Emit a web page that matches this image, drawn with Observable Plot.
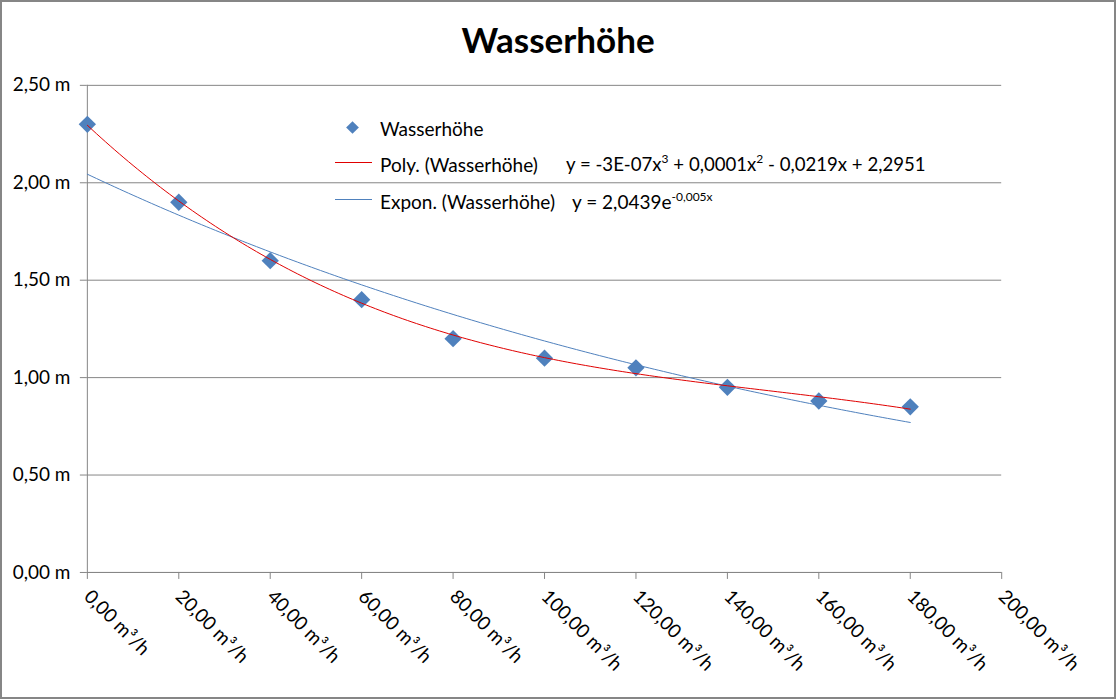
<!DOCTYPE html>
<html>
<head>
<meta charset="utf-8">
<script src="https://cdn.jsdelivr.net/npm/d3@7"></script>
<script src="https://cdn.jsdelivr.net/npm/@observablehq/plot@0.6"></script>
<style>
  html, body { margin: 0; padding: 0; background: #fff; }
  #wrap { position: relative; width: 1116px; height: 699px; box-sizing: border-box; border: 2px solid #868686; overflow: hidden; font-family: Lato, "Liberation Sans", sans-serif; }
  #chart { position: absolute; left: -2px; top: -2px; }
  #title { position: absolute; left: 0; width: 1112px; top: 16px; text-align: center; font-weight: bold; font-size: 35px; color: #000; }
  .leg { position: absolute; font-size: 19px; color: #000; white-space: nowrap; line-height: 1; }
  .leg sup { font-size: 12px; vertical-align: 0; position: relative; top: -8px; }
  .sw { position: absolute; height: 1px; width: 37px; }
  .dm { position: absolute; width: 9px; height: 9px; background: #4f81bd; transform: rotate(45deg); }
</style>
</head>
<body>
<div id="wrap">
  <div id="chart"></div>
  <div id="title">Wasserhöhe</div>
</div>
<script>
// data
const flow = [0, 20, 40, 60, 80, 100, 120, 140, 160, 180];
const height = [2.30, 1.90, 1.60, 1.40, 1.20, 1.10, 1.05, 0.95, 0.88, 0.85];
const xTicks = [0, 20, 40, 60, 80, 100, 120, 140, 160, 180, 200];
const yTicks = [0, 0.5, 1.0, 1.5, 2.0, 2.5];
const seriesName = "Wasserhöhe";
const polyLabel = "Poly. (Wasserhöhe)";
const polyEq = "y = -3E-07x<sup>3</sup> + 0,0001x<sup>2</sup> - 0,0219x + 2,2951";
const expLabel = "Expon. (Wasserhöhe)";
const expEq = "y = 2,0439e<sup>-0,005x</sup>";

const points = flow.map((f, i) => ({x: f, y: height[i]}));

// least-squares cubic fit (trendline like Excel)
function polyfit(xs, ys, deg) {
  const n = deg + 1;
  const A = Array.from({length: n}, () => new Array(n + 1).fill(0));
  for (let k = 0; k < xs.length; k++) {
    const xv = xs[k] / 100;
    for (let i = 0; i < n; i++) {
      for (let j = 0; j < n; j++) A[i][j] += Math.pow(xv, i + j);
      A[i][n] += ys[k] * Math.pow(xv, i);
    }
  }
  for (let c = 0; c < n; c++) {
    let p = c;
    for (let r = c + 1; r < n; r++) if (Math.abs(A[r][c]) > Math.abs(A[p][c])) p = r;
    [A[c], A[p]] = [A[p], A[c]];
    for (let r = 0; r < n; r++) {
      if (r === c) continue;
      const f = A[r][c] / A[c][c];
      for (let j = c; j <= n; j++) A[r][j] -= f * A[c][j];
    }
  }
  const coef = A.map((row, i) => row[n] / row[i]);
  return x => coef.reduce((s, c, i) => s + c * Math.pow(x / 100, i), 0);
}
function expfit(xs, ys) {
  const ly = ys.map(Math.log);
  const mx = d3.mean(xs), my = d3.mean(ly);
  let sxy = 0, sxx = 0;
  xs.forEach((x, i) => { sxy += (x - mx) * (ly[i] - my); sxx += (x - mx) * (x - mx); });
  const b = sxy / sxx, a = Math.exp(my - b * mx);
  return x => a * Math.exp(b * x);
}
const pf = polyfit(flow, height, 3);
const ef = expfit(flow, height);
const xs = d3.range(0, 180.5, 1);
const polyLine = xs.map(x => ({x, y: pf(x)}));
const expLine = xs.map(x => ({x, y: ef(x)}));

const fmt = d => d.toFixed(2).replace(".", ",");
const gray = "#868686";

const plot = Plot.plot({
  width: 1116,
  height: 699,
  marginLeft: 87,
  marginRight: 113,
  marginTop: 85,
  marginBottom: 126,
  style: {fontFamily: "Lato, 'Liberation Sans', sans-serif", fontSize: "19px", background: "transparent", color: "#000"},
  x: {domain: [0, 200]},
  y: {domain: [0, 2.5]},
  marks: [
    Plot.gridY(yTicks, {stroke: gray, strokeOpacity: 1}),
    Plot.ruleX([0], {stroke: gray}),
    Plot.ruleY([0], {stroke: gray}),
    Plot.axisY(yTicks, {tickSize: 7, tickPadding: 10, stroke: gray, fill: "#000", tickFormat: d => fmt(d) + " m", label: null}),
    Plot.axisX(xTicks, {tickSize: 7, tickRotate: 45, textAnchor: "start", tickPadding: 14, stroke: gray, fill: "#000", tickFormat: d => fmt(d) + " m³/h", label: null}),
    Plot.dot(points, {x: "x", y: "y", symbol: "diamond2", r: 7.8, fill: "#4f81bd", stroke: "none"}),
    Plot.line(expLine, {x: "x", y: "y", stroke: "#4f81bd", strokeWidth: 1}),
    Plot.line(polyLine, {x: "x", y: "y", stroke: "#e00000", strokeWidth: 1})
  ]
});
document.getElementById("chart").appendChild(plot);

// legend
const wrap = document.getElementById("wrap");
function add(html, cls, left, top, extra) {
  const d = document.createElement("div");
  d.className = cls; d.innerHTML = html;
  d.style.left = left + "px"; d.style.top = top + "px";
  if (extra) Object.assign(d.style, extra);
  wrap.appendChild(d);
}
add("", "dm", 346, 121);
add(seriesName, "leg", 378, 117);
add("", "sw", 333, 160, {background: "#e00000"});
add(polyLabel, "leg", 378, 153);
add(polyEq, "leg", 564, 153, {fontSize: "18.6px"});
add("", "sw", 333, 197, {background: "#4f81bd"});
add(expLabel, "leg", 378, 190);
add(expEq, "leg", 570, 190);
</script>
</body>
</html>
